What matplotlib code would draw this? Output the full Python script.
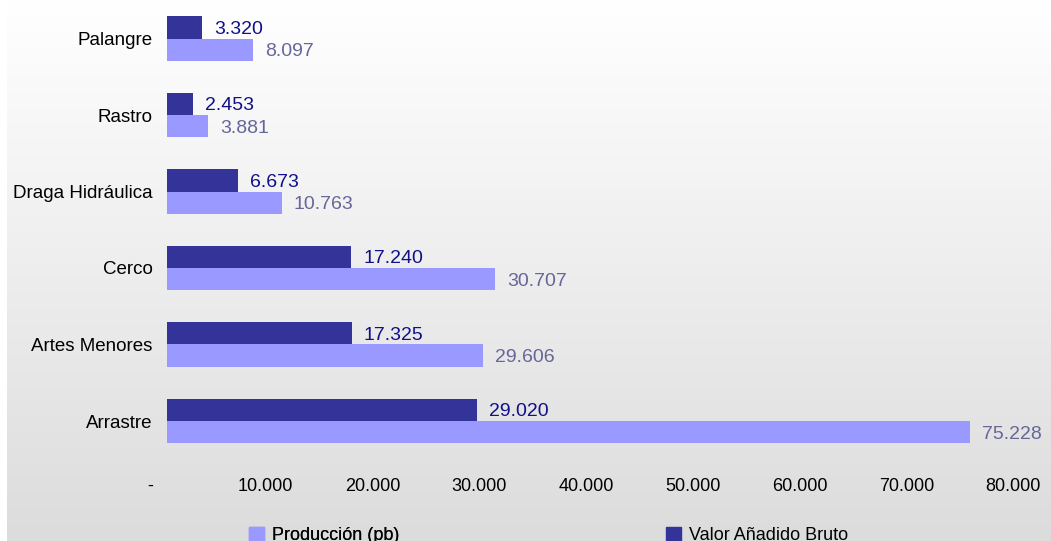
import matplotlib
matplotlib.use("Agg")
import matplotlib.pyplot as plt
import matplotlib.transforms as mtransforms
from matplotlib.patches import Patch
from matplotlib.colors import LinearSegmentedColormap
import numpy as np

plt.rcParams['font.family'] = ['Liberation Sans', 'DejaVu Sans']

categories = ["Palangre", "Rastro", "Draga Hidráulica", "Cerco", "Artes Menores", "Arrastre"]
produccion = [8097, 3881, 10763, 30707, 29606, 75228]
vab = [3320, 2453, 6673, 17240, 17325, 29020]
xticks = [0, 10000, 20000, 30000, 40000, 50000, 60000, 70000, 80000]
xticklabels = ["-", "10.000", "20.000", "30.000", "40.000", "50.000", "60.000", "70.000", "80.000"]
series_names = ["Producción (pb)", "Valor Añadido Bruto"]

def fmt(v):
    return f"{v:,}".replace(",", ".")

W, H = 1051, 541
fig = plt.figure(figsize=(W / 100, H / 100), dpi=100)
fig.patch.set_facecolor("white")

# gradient background (white at top -> light gray at bottom)
bg = fig.add_axes([7 / W, 0, 1 - 7 / W, 1], zorder=-10)
grad = np.linspace(0.0, 1.0, 256).reshape(-1, 1)
cmap = LinearSegmentedColormap.from_list("g", ["#dcdcdc", "#ffffff"])
bg.imshow(grad, aspect="auto", cmap=cmap, extent=[0, 1, 0, 1], origin="lower")
bg.set_axis_off()

left = 167 / W
right = 1021 / W
top_px = 0.25
bot_px = 459.25
ax = fig.add_axes([left, 1 - bot_px / H, right - left, (bot_px - top_px) / H])
ax.set_facecolor("none")
for s in ax.spines.values():
    s.set_visible(False)

y = np.arange(len(categories))
bh = 0.29
dark = "#333399"
light = "#9999ff"
ax.barh(y - bh / 2, vab, height=bh, color=dark, zorder=3)
ax.barh(y + bh / 2, produccion, height=bh, color=light, zorder=3)
ax.set_xlim(0, 80000)
ax.set_ylim(len(categories) - 0.5, -0.5)

ax.set_yticks(y)
ax.set_yticklabels(categories, fontsize=13.5, color="black")
ax.tick_params(axis="y", length=0, pad=10.5)

ax.set_xticks(xticks)
ax.set_xticklabels(xticklabels, fontsize=13, color="black")
ax.tick_params(axis="x", length=0, pad=13.5)
for lab in ax.get_xticklabels():
    dx = -17 if lab.get_text() == "-" else -8
    lab.set_transform(lab.get_transform() + mtransforms.ScaledTranslation(dx / 100, 0, fig.dpi_scale_trans))

off = mtransforms.offset_copy(ax.transData, fig=fig, x=12, y=0, units="dots")
for i, (p, v) in enumerate(zip(produccion, vab)):
    ax.text(v, i - bh / 2, fmt(v), transform=off, ha="left", va="center_baseline",
            fontsize=14, color="#10108a")
    ax.text(p, i + bh / 2, fmt(p), transform=off, ha="left", va="center_baseline",
            fontsize=14, color="#666699")

leg_y = 1 - 535.5 / H
l1 = fig.legend(handles=[Patch(color=light)], labels=[series_names[0]], loc="center left",
                bbox_to_anchor=(249 / W, leg_y), frameon=False, fontsize=13,
                handlelength=0.83, handleheight=0.83, handletextpad=0.45,
                borderpad=0, borderaxespad=0)
l2 = fig.legend(handles=[Patch(color=dark)], labels=[series_names[1]], loc="center left",
                bbox_to_anchor=(666 / W, leg_y), frameon=False, fontsize=13,
                handlelength=0.83, handleheight=0.83, handletextpad=0.45,
                borderpad=0, borderaxespad=0)
fig.add_artist(l1)

fig.savefig("out.png", dpi=100)
